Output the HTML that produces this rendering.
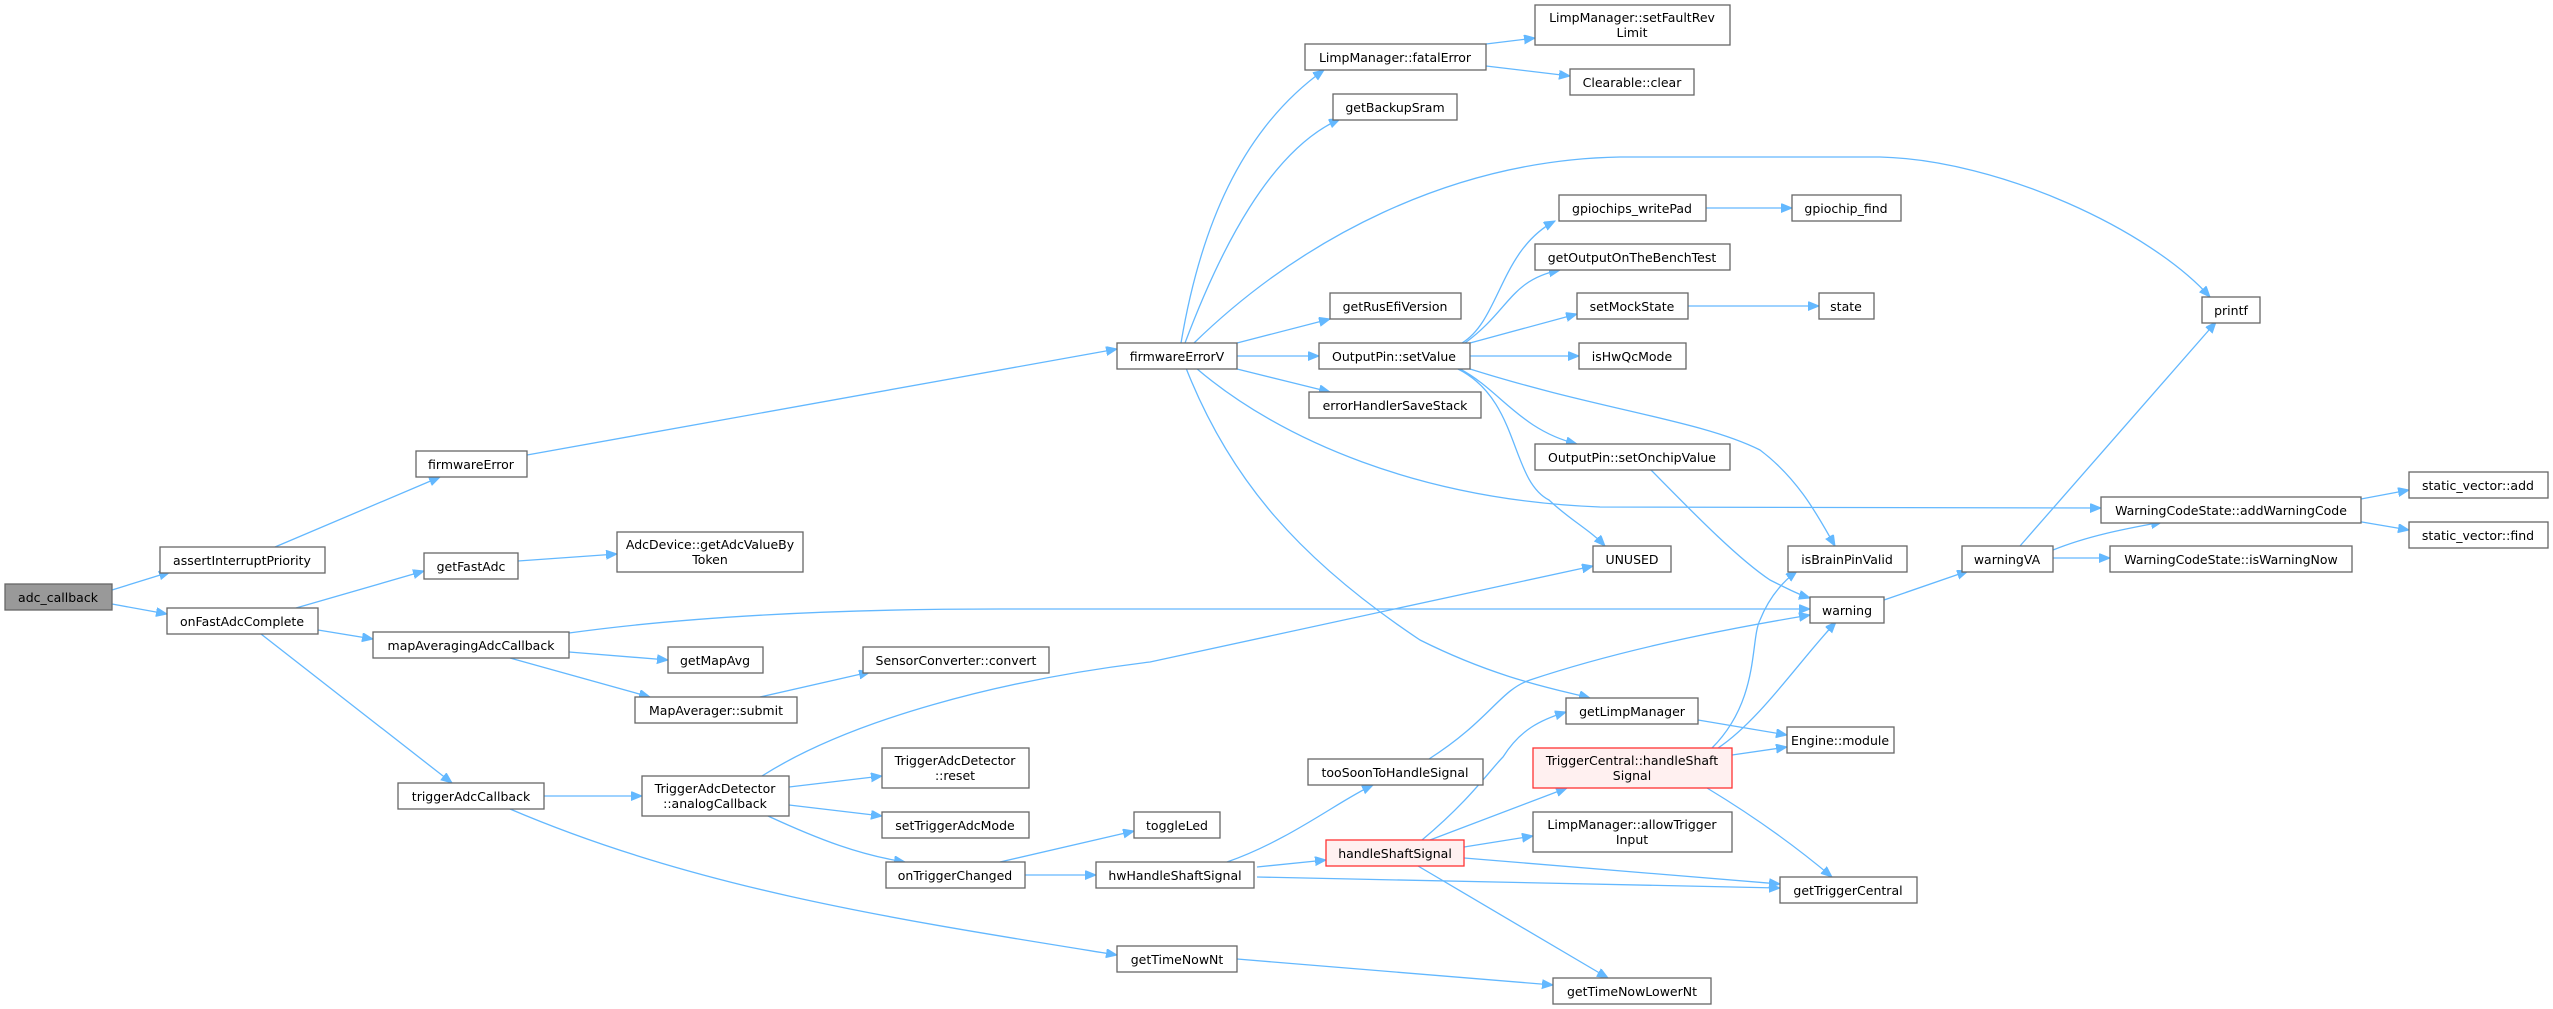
<!DOCTYPE html>
<html><head><meta charset="utf-8"><style>
html,body{margin:0;padding:0;background:#fff;}
svg{display:block;}
text{font-family:"DejaVu Sans","Liberation Sans",sans-serif;font-size:12.5px;fill:#000;text-anchor:middle;}
.n{fill:#fff;stroke:#666;stroke-width:1.3;}
.g{fill:#999;stroke:#666;stroke-width:1.3;}
.r{fill:#fff0f0;stroke:#f33;stroke-width:1.3;}
path.e{fill:none;stroke:#63b8ff;stroke-width:1.3;marker-end:url(#a);}
</style></head><body>
<svg width="2553" height="1009" viewBox="0 0 2553 1009" xmlns="http://www.w3.org/2000/svg">
<defs><marker id="a" markerUnits="userSpaceOnUse" markerWidth="12" markerHeight="10" refX="11" refY="4.5" orient="auto"><path d="M0,0 L11,4.5 L0,9 z" fill="#63b8ff" stroke="#63b8ff"/></marker></defs>
<g>
<path class="e" d="M112,590 L170,572"/>
<path class="e" d="M112,604 L167,614"/>
<path class="e" d="M275,547 L440,477"/>
<path class="e" d="M527,455 L1117,349"/>
<path class="e" d="M296,608 L424,571"/>
<path class="e" d="M518,561 L617,554"/>
<path class="e" d="M318,630 L373,639"/>
<path class="e" d="M261,634 L452,783"/>
<path class="e" d="M569,633 C700,615 850,609 1000,609 L1810,609"/>
<path class="e" d="M569,652 L668,660"/>
<path class="e" d="M510,658 L650,697"/>
<path class="e" d="M760,697 L870,672"/>
<path class="e" d="M544,796 L642,796"/>
<path class="e" d="M510,809 C700,890 900,920 1117,955"/>
<path class="e" d="M762,776 C850,720 1000,680 1150,662 L1593,566"/>
<path class="e" d="M789,787 L882,776"/>
<path class="e" d="M789,805 L882,816"/>
<path class="e" d="M768,816 C820,840 860,855 905,862"/>
<path class="e" d="M1000,862 L1134,831"/>
<path class="e" d="M1025,875 L1096,875"/>
<path class="e" d="M1227,862 C1290,840 1340,800 1373,785"/>
<path class="e" d="M1257,867 L1326,860"/>
<path class="e" d="M1257,877 L1780,888"/>
<path class="e" d="M1429,759 C1490,720 1500,690 1530,680 C1620,650 1720,630 1810,615"/>
<path class="e" d="M1422,840 C1470,800 1490,770 1503,757 C1520,730 1540,720 1566,712"/>
<path class="e" d="M1430,840 L1567,788"/>
<path class="e" d="M1464,847 L1533,836"/>
<path class="e" d="M1464,858 L1780,884"/>
<path class="e" d="M1418,866 L1608,978"/>
<path class="e" d="M1237,959 L1553,985"/>
<path class="e" d="M1698,720 L1787,735"/>
<path class="e" d="M1732,755 L1787,747"/>
<path class="e" d="M1712,748 C1760,700 1750,640 1760,620 C1770,595 1785,580 1797,571"/>
<path class="e" d="M1718,748 C1760,720 1800,660 1836,622"/>
<path class="e" d="M1707,788 C1760,820 1800,850 1832,877"/>
<path class="e" d="M1884,600 L1968,571"/>
<path class="e" d="M2020,546 L2216,322"/>
<path class="e" d="M2053,550 C2090,535 2130,528 2162,522"/>
<path class="e" d="M2053,558 L2110,558"/>
<path class="e" d="M2361,499 L2409,490"/>
<path class="e" d="M2356,521 L2409,530"/>
<path class="e" d="M1181,343 C1200,230 1240,130 1324,70"/>
<path class="e" d="M1185,343 C1220,250 1270,150 1340,119"/>
<path class="e" d="M1194,343 C1300,240 1450,160 1620,157 L1880,157 C2000,160 2150,230 2210,297"/>
<path class="e" d="M1237,343 L1330,319"/>
<path class="e" d="M1237,356 L1319,356"/>
<path class="e" d="M1237,369 L1330,392"/>
<path class="e" d="M1196,368 C1280,440 1420,500 1600,507 L2101,508"/>
<path class="e" d="M1186,368 C1230,480 1300,560 1420,640 C1500,680 1560,690 1590,698"/>
<path class="e" d="M1462,343 C1500,320 1500,250 1555,221"/>
<path class="e" d="M1465,343 C1510,310 1510,280 1560,270"/>
<path class="e" d="M1470,343 L1577,314"/>
<path class="e" d="M1470,356 L1579,356"/>
<path class="e" d="M1460,369 C1500,390 1520,430 1577,444"/>
<path class="e" d="M1458,369 C1520,400 1510,480 1549,500 C1570,520 1590,530 1605,546"/>
<path class="e" d="M1470,369 C1600,410 1700,420 1760,450 C1800,480 1820,520 1835,546"/>
<path class="e" d="M1651,470 C1700,520 1740,560 1770,580 C1790,590 1800,595 1810,598"/>
<path class="e" d="M1706,208 L1792,208"/>
<path class="e" d="M1688,306 L1819,306"/>
<path class="e" d="M1486,44 L1535,38"/>
<path class="e" d="M1486,66 L1570,76"/>
</g>
<g>
<rect class="g" x="5" y="584" width="107" height="26"/><text x="58" y="602">adc_callback</text>
<rect class="n" x="160" y="547" width="165" height="26"/><text x="242" y="565">assertInterruptPriority</text>
<rect class="n" x="167" y="608" width="151" height="26"/><text x="242" y="626">onFastAdcComplete</text>
<rect class="n" x="416" y="451" width="111" height="26"/><text x="471" y="469">firmwareError</text>
<rect class="n" x="424" y="553" width="94" height="26"/><text x="471" y="571">getFastAdc</text>
<rect class="n" x="617" y="532" width="186" height="40"/><text x="710" y="549">AdcDevice::getAdcValueBy</text><text x="710" y="564">Token</text>
<rect class="n" x="373" y="632" width="196" height="26"/><text x="471" y="650">mapAveragingAdcCallback</text>
<rect class="n" x="668" y="647" width="95" height="26"/><text x="715" y="665">getMapAvg</text>
<rect class="n" x="635" y="697" width="162" height="26"/><text x="716" y="715">MapAverager::submit</text>
<rect class="n" x="863" y="647" width="186" height="26"/><text x="956" y="665">SensorConverter::convert</text>
<rect class="n" x="398" y="783" width="146" height="26"/><text x="471" y="801">triggerAdcCallback</text>
<rect class="n" x="642" y="776" width="147" height="40"/><text x="715" y="793">TriggerAdcDetector</text><text x="715" y="808">::analogCallback</text>
<rect class="n" x="882" y="748" width="147" height="40"/><text x="955" y="765">TriggerAdcDetector</text><text x="955" y="780">::reset</text>
<rect class="n" x="882" y="812" width="147" height="26"/><text x="955" y="830">setTriggerAdcMode</text>
<rect class="n" x="886" y="862" width="139" height="26"/><text x="955" y="880">onTriggerChanged</text>
<rect class="n" x="1134" y="812" width="86" height="26"/><text x="1177" y="830">toggleLed</text>
<rect class="n" x="1096" y="862" width="158" height="26"/><text x="1175" y="880">hwHandleShaftSignal</text>
<rect class="n" x="1117" y="946" width="120" height="26"/><text x="1177" y="964">getTimeNowNt</text>
<rect class="n" x="1308" y="759" width="175" height="26"/><text x="1395" y="777">tooSoonToHandleSignal</text>
<rect class="r" x="1326" y="840" width="138" height="26"/><text x="1395" y="858">handleShaftSignal</text>
<rect class="n" x="1553" y="978" width="158" height="26"/><text x="1632" y="996">getTimeNowLowerNt</text>
<rect class="n" x="1533" y="812" width="199" height="40"/><text x="1632" y="829">LimpManager::allowTrigger</text><text x="1632" y="844">Input</text>
<rect class="r" x="1533" y="748" width="199" height="40"/><text x="1632" y="765">TriggerCentral::handleShaft</text><text x="1632" y="780">Signal</text>
<rect class="n" x="1566" y="698" width="132" height="26"/><text x="1632" y="716">getLimpManager</text>
<rect class="n" x="1780" y="877" width="137" height="26"/><text x="1848" y="895">getTriggerCentral</text>
<rect class="n" x="1787" y="727" width="107" height="26"/><text x="1840" y="745">Engine::module</text>
<rect class="n" x="1593" y="546" width="78" height="26"/><text x="1632" y="564">UNUSED</text>
<rect class="n" x="1788" y="546" width="119" height="26"/><text x="1847" y="564">isBrainPinValid</text>
<rect class="n" x="1810" y="597" width="74" height="26"/><text x="1847" y="615">warning</text>
<rect class="n" x="1962" y="546" width="91" height="26"/><text x="2007" y="564">warningVA</text>
<rect class="n" x="2110" y="546" width="242" height="26"/><text x="2231" y="564">WarningCodeState::isWarningNow</text>
<rect class="n" x="2101" y="497" width="260" height="26"/><text x="2231" y="515">WarningCodeState::addWarningCode</text>
<rect class="n" x="2409" y="472" width="139" height="26"/><text x="2478" y="490">static_vector::add</text>
<rect class="n" x="2409" y="522" width="139" height="26"/><text x="2478" y="540">static_vector::find</text>
<rect class="n" x="2202" y="297" width="58" height="26"/><text x="2231" y="315">printf</text>
<rect class="n" x="1117" y="343" width="120" height="26"/><text x="1177" y="361">firmwareErrorV</text>
<rect class="n" x="1305" y="44" width="181" height="26"/><text x="1395" y="62">LimpManager::fatalError</text>
<rect class="n" x="1535" y="5" width="195" height="40"/><text x="1632" y="22">LimpManager::setFaultRev</text><text x="1632" y="37">Limit</text>
<rect class="n" x="1570" y="69" width="124" height="26"/><text x="1632" y="87">Clearable::clear</text>
<rect class="n" x="1333" y="94" width="124" height="26"/><text x="1395" y="112">getBackupSram</text>
<rect class="n" x="1559" y="195" width="147" height="26"/><text x="1632" y="213">gpiochips_writePad</text>
<rect class="n" x="1792" y="195" width="109" height="26"/><text x="1846" y="213">gpiochip_find</text>
<rect class="n" x="1535" y="244" width="195" height="26"/><text x="1632" y="262">getOutputOnTheBenchTest</text>
<rect class="n" x="1330" y="293" width="131" height="26"/><text x="1395" y="311">getRusEfiVersion</text>
<rect class="n" x="1577" y="293" width="111" height="26"/><text x="1632" y="311">setMockState</text>
<rect class="n" x="1819" y="293" width="55" height="26"/><text x="1846" y="311">state</text>
<rect class="n" x="1319" y="343" width="151" height="26"/><text x="1394" y="361">OutputPin::setValue</text>
<rect class="n" x="1579" y="343" width="107" height="26"/><text x="1632" y="361">isHwQcMode</text>
<rect class="n" x="1309" y="392" width="172" height="26"/><text x="1395" y="410">errorHandlerSaveStack</text>
<rect class="n" x="1535" y="444" width="195" height="26"/><text x="1632" y="462">OutputPin::setOnchipValue</text>
</g>
</svg>
</body></html>
